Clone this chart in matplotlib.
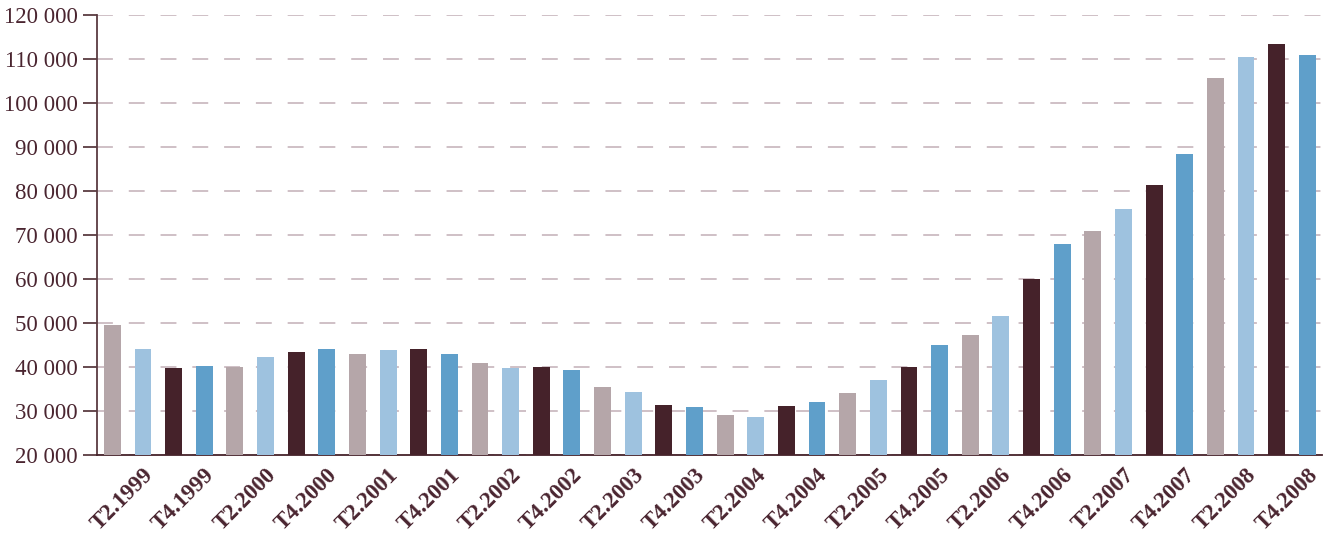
import matplotlib
matplotlib.use("Agg")
import matplotlib.pyplot as plt
from matplotlib.ticker import FuncFormatter, MultipleLocator

years = list(range(1999, 2009))
quarters = ["T1", "T2", "T3", "T4"]
categories = [f"{q}.{y}" for y in years for q in quarters]
values = [
    49500, 44000, 39700, 40300,
    40000, 42200, 43500, 44200,
    43000, 43800, 44200, 43000,
    41000, 39800, 40100, 39400,
    35500, 34400, 31300, 31000,
    29200, 28700, 31200, 32100,
    34000, 37000, 39900, 44900,
    47200, 51700, 60000, 67900,
    71000, 76000, 81300, 88400,
    105600, 110400, 113400, 110900,
]
quarter_colors = ["#B5A6A9", "#9EC2DF", "#45222A", "#5F9FCA"]
text_color = "#4A2530"

plt.rcParams['font.family'] = ['Liberation Serif', 'DejaVu Serif']

fig = plt.figure(figsize=(13.27, 5.33), dpi=100)
ax = fig.add_axes([97/1327, 1 - 455/533, (1322-97)/1327, (455-15)/533])

x = list(range(len(categories)))
colors = [quarter_colors[i % 4] for i in x]
ax.bar(x, [v - 20000 for v in values], bottom=20000, width=0.55, color=colors, zorder=3)

ax.set_ylim(20000, 120000)
ax.set_xlim(-0.5, 39.33)
ax.yaxis.set_major_locator(MultipleLocator(10000))
ax.yaxis.set_major_formatter(FuncFormatter(lambda v, p: f"{int(v):,}".replace(",", " ")))
ax.grid(axis='y', color='#CBBBC1', linestyle=(0, (8.8, 8.8)), linewidth=1.3, zorder=1)
ax.set_axisbelow(True)

# labels every second quarter; text end sits slightly right of the bar centre
label_idx = x[1::2]
ax.set_xticks([i + 0.48 for i in label_idx])
ax.set_xticklabels([categories[i] for i in label_idx], rotation=45, ha='right',
                   fontsize=16.5, fontweight='bold', color=text_color)
ax.tick_params(axis='x', length=0, pad=7)
ax.tick_params(axis='y', length=10, width=1.3, color='#5A3B41', labelsize=16.5,
               labelcolor=text_color, pad=4)

for s in ['top', 'right']:
    ax.spines[s].set_visible(False)
ax.spines['left'].set_color('#5A3B41')
ax.spines['left'].set_linewidth(1.3)
ax.spines['bottom'].set_color('#45222A')
ax.spines['bottom'].set_linewidth(1.3)

fig.savefig("out.png", dpi=100)
